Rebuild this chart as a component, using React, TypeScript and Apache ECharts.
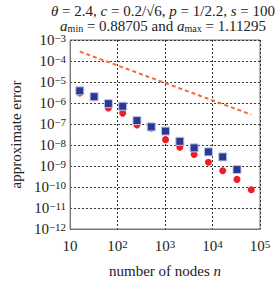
import React, { useEffect, useRef } from "react";
import * as echarts from "echarts";

const nSquares = [16, 32, 64, 128, 256, 512, 1024, 2048, 4096, 8192, 16384, 32768];
const errSquares = [3.8e-6, 2.0e-6, 9.3e-7, 7.0e-7, 1.45e-7, 7.3e-8, 4.6e-8, 1.5e-8, 7.3e-9, 4.7e-9, 2.7e-9, 6.8e-10];
const nCircles = [16, 32, 64, 128, 256, 512, 1024, 2048, 4096, 8192, 16384, 32768, 65536];
const errCircles = [3.0e-6, 1.8e-6, 5.8e-7, 3.3e-7, 9.1e-8, 6.3e-8, 1.8e-8, 7.9e-9, 3.5e-9, 1.5e-9, 5.9e-10, 2.3e-10, 7.4e-11];
const nRef = [16, 65536];
const errRef = [2.8e-4, 2.8e-7];

const FONT = "Liberation Serif";

function expLabel(v: number) {
  const e = Math.round(Math.log10(v));
  if (e === 1) return "10";
  const s = e < 0 ? "\u2212" + String(-e) : String(e);
  return "10{s|" + s + "}";
}

export default function App() {
  const ref = useRef<HTMLDivElement>(null);
  useEffect(() => {
    const chart = echarts.init(ref.current!, null, { renderer: "svg" });
    const labelRich = {
      s: { fontSize: 11, fontFamily: FONT, color: "#222", verticalAlign: "top" as const, lineHeight: 12, padding: [0, 0, 8, 0] },
    };
    chart.setOption({
      animation: false,
      backgroundColor: "#fff",
      title: {
        left: 158,
        textAlign: "center",
        top: -2,
        text:
          "{i|\u03b8} = 2.4, {i|c} = 0.2/\u221a6, {i|p} = 1/2.2, {i|s} = 100\n{i|a}{sub|min} = 0.88705 and {i|a}{sub|max} = 1.11295",
        textStyle: {
          fontFamily: FONT,
          fontSize: 15,
          fontWeight: "normal",
          color: "#222",
          lineHeight: 15,
          rich: {
            i: { fontFamily: FONT, fontStyle: "italic", fontSize: 15, color: "#222" },
            sub: { fontFamily: FONT, fontSize: 10, color: "#222", verticalAlign: "bottom", padding: [3, 0, 0, 0] },
          },
        },
      },
      grid: {
        left: 60,
        right: 19,
        top: 40,
        bottom: 44,
        show: true,
        borderColor: "#777",
        borderWidth: 1,
        backgroundColor: "transparent",
      },
      xAxis: {
        type: "log",
        logBase: 10,
        min: 10,
        max: 100000,
        name: "number of nodes {i|n}",
        nameLocation: "middle",
        nameGap: 34,
        nameTextStyle: {
          fontFamily: FONT,
          fontSize: 15,
          color: "#222",
          rich: { i: { fontFamily: FONT, fontStyle: "italic", fontSize: 15, color: "#222" } },
        },
        axisLine: { show: true, lineStyle: { color: "#777" } },
        axisTick: { show: false },
        minorTick: { show: false },
        splitLine: { show: true, lineStyle: { type: [2, 2], color: "#333", width: 1 } },
        axisLabel: {
          formatter: (v: number) => expLabel(v),
          fontFamily: FONT,
          fontSize: 15,
          color: "#222",
          margin: 9,
          rich: labelRich,
        },
      },
      yAxis: {
        type: "log",
        logBase: 10,
        min: 1e-12,
        max: 1e-3,
        name: "approximate error",
        nameLocation: "middle",
        nameGap: 47,
        nameTextStyle: { fontFamily: FONT, fontSize: 15, color: "#222" },
        axisLine: { show: true, lineStyle: { color: "#777" } },
        axisTick: { show: false },
        minorTick: { show: false },
        splitLine: { show: true, lineStyle: { type: [2, 2], color: "#333", width: 1 } },
        axisLabel: {
          formatter: (v: number) => expLabel(v),
          fontFamily: FONT,
          fontSize: 15,
          color: "#222",
          margin: 4,
          rich: labelRich,
        },
      },
      series: [
        {
          type: "line",
          data: nRef.map((n, i) => [n, errRef[i]]),
          showSymbol: false,
          lineStyle: { color: "#f26a3d", width: 2, type: [4, 3] },
          z: 1,
        },
        {
          type: "scatter",
          data: nCircles.map((n, i) => [n, errCircles[i]]),
          symbol: "circle",
          symbolSize: 7,
          itemStyle: { color: "#ee1d25", opacity: 1 },
          z: 2,
        },
        {
          type: "scatter",
          data: nSquares.map((n, i) => [n, errSquares[i]]),
          symbol: "rect",
          symbolSize: 8,
          itemStyle: { color: "#29398f", borderColor: "#bfc3e6", borderWidth: 1, opacity: 1 },
          z: 3,
        },
      ],
    });
    return () => chart.dispose();
  }, []);
  return <div ref={ref} style={{ width: 279, height: 283, position: "absolute", left: 0, top: 0 }} />;
}
